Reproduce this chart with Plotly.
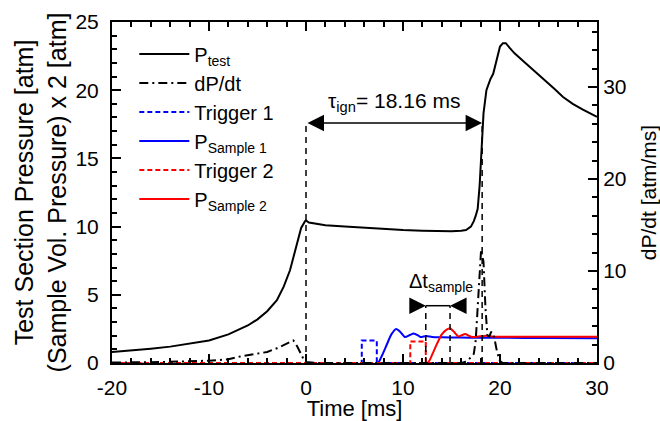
import plotly.graph_objects as go

# ---------------- data ----------------
t_test = [-20, -18, -16, -14, -12, -10, -8, -6, -5, -4, -3, -2.3, -1.65, -1.0, -0.5, -0.1,
          0.0, 0.3, 0.7, 1, 2, 4, 6, 8, 10, 12, 14, 15, 16, 16.5, 17.0, 17.3, 17.5, 17.7,
          17.9, 18.1, 18.3, 18.6, 19.0, 19.3, 19.6, 20.0, 20.3, 20.6, 21.0, 21.5, 22.3,
          23.1, 24.0, 24.8, 25.6, 26.5, 27.5, 28.5, 29.3, 30]
p_test = [0.8, 0.9, 1.05, 1.2, 1.4, 1.65, 2.1, 2.75, 3.2, 3.8, 4.6, 5.6, 6.8, 8.6, 9.9, 10.4,
          10.45, 10.3, 10.25, 10.2, 10.1, 10.0, 9.9, 9.8, 9.75, 9.7, 9.65, 9.65, 9.7, 9.75,
          10.0, 10.4, 10.8, 11.3, 13.0, 15.6, 18.3, 20.0, 20.8, 21.2, 22.0, 23.2, 23.45,
          23.45, 23.1, 22.7, 22.2, 21.7, 21.1, 20.6, 20.1, 19.5, 19.0, 18.6, 18.3, 18.05]

t_dpdt = [-20, -15, -10, -8, -6.8, -5, -4, -3, -2.3, -1.6, -1.3, -0.9, -0.5, -0.2, 0, 1,
          16, 16.5, 17.0, 17.3, 17.5, 17.7, 17.9, 18.05, 18.3, 18.5, 18.7, 18.9, 19.1, 19.4,
          19.7, 20.0, 20.3, 30]
dpdt = [0.05, 0.1, 0.25, 0.4, 0.7, 1.0, 1.2, 1.6, 1.95, 2.3, 2.45, 1.8, 1.0, 0.3, 0.1, 0,
        0, 0.15, 0.6, 1.0, 2.5, 6.0, 10.0, 12.3, 11.0, 6.0, 3.0, 2.9, 3.4, 2.8,
        1.2, 0.2, 0, 0]

t_trig1 = [-20, 5.75, 5.75, 7.3, 7.3, 30]
trig1 = [0, 0, 1.65, 1.65, 0, 0]

t_samp1 = [-20, 7.4, 7.8, 8.3, 8.8, 9.3, 9.7, 10.2, 10.7, 11.1, 11.5, 11.8, 12.4, 13, 14, 16,
           18, 20, 25, 30]
samp1 = [0, 0, 0.5, 1.3, 2.1, 2.5, 2.3, 1.9, 2.05, 2.17, 2.05, 1.9, 1.98, 1.9, 1.88, 1.87,
         1.85, 1.85, 1.83, 1.82]

t_trig2 = [-20, 10.75, 10.75, 12.35, 12.35, 30]
trig2 = [0, 0, 1.58, 1.58, 0, 0]

t_samp2 = [-20, 12.5, 13.0, 13.5, 14.0, 14.5, 14.85, 15.3, 15.7, 16.1, 16.4, 16.8, 17.1, 17.8,
           18.6, 19.3, 20, 25, 30]
samp2 = [0, 0, 0.6, 1.4, 2.1, 2.45, 2.55, 2.25, 1.95, 2.05, 2.12, 2.0, 1.9, 1.95,
         2.0, 1.93, 1.92, 1.92, 1.92]

x_tickvals = [-20, -10, 0, 10, 20, 30]
x_ticktext = ["-20", "-10", "0", "10", "20", "30"]

tau_ign = 18.16           # ms
t_start = 0.0             # end of compression
t_trig2_start = 12.35     # sample 2 trigger
t_samp2_peak = 14.85      # sample 2 arrival
tau_level = 17.6          # arrow height (left axis units)
dt_level = 4.2

font_family = "Arial, Liberation Sans, sans-serif"

fig = go.Figure()
fig.add_trace(go.Scatter(x=t_test, y=p_test, mode="lines", name="P<sub>test</sub>",
                         line=dict(color="black", width=2)))
fig.add_trace(go.Scatter(x=t_dpdt, y=dpdt, mode="lines", name="dP/dt", yaxis="y2",
                         line=dict(color="black", width=2, dash="9px,4px,2px,4px")))
fig.add_trace(go.Scatter(x=t_trig1, y=trig1, mode="lines", name="Trigger 1",
                         line=dict(color="blue", width=2, dash="5px,3px")))
fig.add_trace(go.Scatter(x=t_samp1, y=samp1, mode="lines", name="P<sub>Sample 1</sub>",
                         line=dict(color="blue", width=2, shape="spline", smoothing=0.6)))
fig.add_trace(go.Scatter(x=t_trig2, y=trig2, mode="lines", name="Trigger 2",
                         line=dict(color="red", width=2, dash="5px,3px")))
fig.add_trace(go.Scatter(x=t_samp2, y=samp2, mode="lines", name="P<sub>Sample 2</sub>",
                         line=dict(color="red", width=2, shape="spline", smoothing=0.6)))

shapes = []
for xv, top in [(t_start, tau_level), (tau_ign, tau_level),
                (t_trig2_start, dt_level), (t_samp2_peak, dt_level)]:
    shapes.append(dict(type="line", xref="x", yref="y", x0=xv, x1=xv, y0=0, y1=top,
                       line=dict(color="black", width=1.5, dash="6px,5px")))
shapes.append(dict(type="line", xref="x", yref="y", x0=t_trig2_start, x1=t_samp2_peak,
                   y0=dt_level, y1=dt_level, line=dict(color="black", width=1.5)))

annotations = [
    dict(x=tau_ign, y=tau_level, ax=t_start, ay=tau_level, xref="x", yref="y",
         axref="x", ayref="y", text="", showarrow=True, arrowhead=2, arrowside="end+start",
         arrowwidth=1.5, arrowsize=2.2, arrowcolor="black"),
    dict(x=(t_start + tau_ign) / 2, y=19.1, xref="x", yref="y", showarrow=False,
         text="τ<sub>ign</sub>= 18.16 ms", font=dict(size=21, color="black", family=font_family)),
    dict(x=t_trig2_start, y=dt_level, ax=10.7, ay=dt_level, xref="x", yref="y",
         axref="x", ayref="y", text="", showarrow=True, arrowhead=2,
         arrowwidth=1.5, arrowsize=2.2, arrowcolor="black"),
    dict(x=t_samp2_peak, y=dt_level, ax=16.5, ay=dt_level, xref="x", yref="y",
         axref="x", ayref="y", text="", showarrow=True, arrowhead=2,
         arrowwidth=1.5, arrowsize=2.2, arrowcolor="black"),
    dict(x=13.9, y=5.9, xref="x", yref="y", showarrow=False,
         text="Δt<sub>sample</sub>", font=dict(size=20, color="black", family=font_family)),
]

axis_common = dict(showgrid=False, zeroline=False, showline=True, linecolor="black",
                   linewidth=2, ticks="inside", ticklen=9, tickwidth=1.5, tickcolor="black",
                   automargin=False,
                   tickfont=dict(size=21, color="black", family=font_family))

fig.update_layout(
    width=660, height=421, autosize=False,
    margin=dict(l=112, r=63, t=22, b=58),
    paper_bgcolor="white", plot_bgcolor="white",
    font=dict(family=font_family, color="black"),
    xaxis=dict(range=[-20, 30], tickmode="array", tickvals=x_tickvals, ticktext=x_ticktext,
               mirror="ticks", ticklabelstandoff=5,
               minor=dict(ticks="inside", dtick=2, ticklen=5, tickwidth=1.5, tickcolor="black"),
               title=dict(text="Time [ms]", font=dict(size=22), standoff=2),
               **axis_common),
    yaxis=dict(range=[0, 25], dtick=5, ticklabelstandoff=7,
               minor=dict(ticks="inside", dtick=1, ticklen=5, tickwidth=1.5, tickcolor="black"),
               title=dict(text="Test Section Pressure [atm]<br>(Sample Vol. Pressure) x 2 [atm]",
                          font=dict(size=25), standoff=2),
               **axis_common),
    yaxis2=dict(range=[0, 37.07], dtick=10, overlaying="y", side="right",
                minor=dict(ticks="inside", dtick=2, ticklen=5, tickwidth=1.5, tickcolor="black"),
                title=dict(text="dP/dt [atm/ms]", font=dict(size=21), standoff=18),
                **axis_common),
    legend=dict(x=0.046, y=0.963, xanchor="left", yanchor="top", bgcolor="rgba(0,0,0,0)",
                font=dict(size=20, color="black", family=font_family),
                itemwidth=50, tracegroupgap=0),
    showlegend=True,
    shapes=shapes,
    annotations=annotations,
)

fig.write_html("out.html")
